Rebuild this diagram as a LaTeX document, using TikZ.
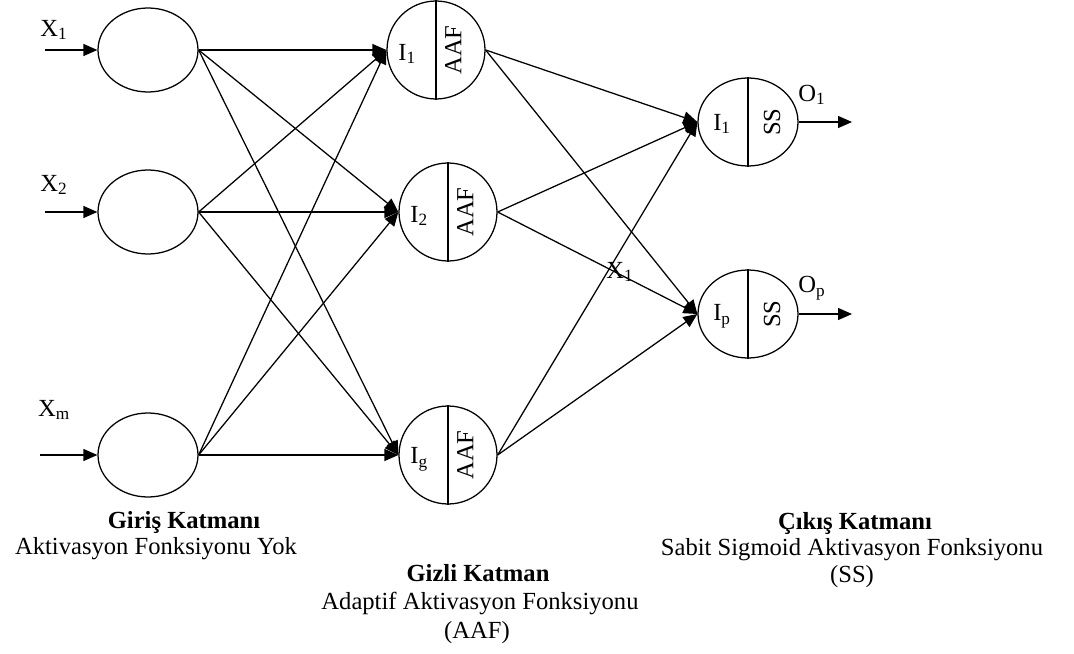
\documentclass[tikz,border=0pt]{standalone}
\usepackage{fontspec}
\setmainfont{Liberation Serif}
\usepackage{tikz}
\usetikzlibrary{shapes.geometric, arrows.meta}

\newcommand{\lbl}[2]{#1\textsubscript{#2}}

\begin{document}
\begin{tikzpicture}[
		line width = 0.9pt,
		>={Triangle[length=3.5mm, width=3mm]},
		font = \fontsize{17.5}{21}\selectfont,
		inputnode/.style = {ellipse, draw, minimum width=2.5cm, minimum height=2.1cm, inner sep=0},
		hiddennode/.style = {circle, draw, minimum size=2.45cm, inner sep=0},
		outputnode/.style = {ellipse, draw, minimum width=2.5cm, minimum height=2.2cm, inner sep=0},
		title/.style = {font=\fontsize{17.5}{21}\selectfont\bfseries}
	]
	\useasboundingbox (0,0) rectangle (26.85,16.325);

	% giris katmani
	\foreach \n/\y/\xs/\s/\ly in {1/15.075/1.125/1/15.575, 2/11.025/1.125/2/11.7, 3/4.95/1.0/m/6.075}
	{
		\node[inputnode] (in\n) at (3.7,\y) {};
		\coordinate (x\n) at (\xs,\y);
		\draw[->] (x\n) -- (in\n.west);
		\node (x\n-lbl) at (1.35,\ly) {\lbl{X}{\s}};
	}

	% gizli katman
	\foreach \n/\x/\y/\s in {1/10.9/15.075/1, 2/11.2/11.025/2, 3/11.2/4.95/g}
	{
		\node[hiddennode] (h\n) at (\x,\y) {};
		\draw (h\n.north) -- (h\n.south);
		\node (h\n-in) at ([xshift=-0.72cm, yshift=-0.1cm]h\n.center) {\lbl{I}{\s}};
		\node[rotate=90] (h\n-fn) at ([xshift=0.43cm]h\n.center) {AAF};
	}

	% cikis katmani
	\foreach \n/\y/\s/\ly in {1/13.275/1/13.95, 2/8.475/p/9.125}
	{
		\node[outputnode] (out\n) at (18.7,\y) {};
		\draw (out\n.north) -- (out\n.south);
		\node (out\n-in) at ([xshift=-0.65cm, yshift=-0.05cm]out\n.center) {\lbl{I}{\s}};
		\node[rotate=90] (out\n-fn) at ([xshift=0.6cm]out\n.center) {SS};
		\coordinate (o\n) at (21.3,\y);
		\draw[->] (out\n.east) -- (o\n);
		\node (o\n-lbl) at (20.3,\ly) {\lbl{O}{\s}};
	}

	% baglantilar
	\foreach \i in {1,2,3}
	{
		\foreach \j in {1,2,3}
		{
			\draw[->] (in\i.east) -- (h\j.west);
		}
		\foreach \k in {1,2}
		{
			\draw[->] (h\i.east) -- (out\k.west);
		}
	}

	\node (x1-mid) at (15.5,9.525) {\lbl{X}{1}};

	% katman aciklamalari
	\node[title] (in-title) at (4.6,3.275) {Giriş Katmanı};
	\node (in-text) at (3.9,2.6) {Aktivasyon Fonksiyonu Yok};

	\node[title] (h-title) at (11.95,2.0) {Gizli Katman};
	\node (h-text) at (12.0,1.25) {Adaptif Aktivasyon Fonksiyonu};
	\node (h-abbr) at (11.925,0.5) {(AAF)};

	\node[title] (out-title) at (21.375,3.25) {Çıkış Katmanı};
	\node (out-text) at (21.3,2.575) {Sabit Sigmoid Aktivasyon Fonksiyonu};
	\node (out-abbr) at (21.3,1.9) {(SS)};
\end{tikzpicture}
\end{document}
